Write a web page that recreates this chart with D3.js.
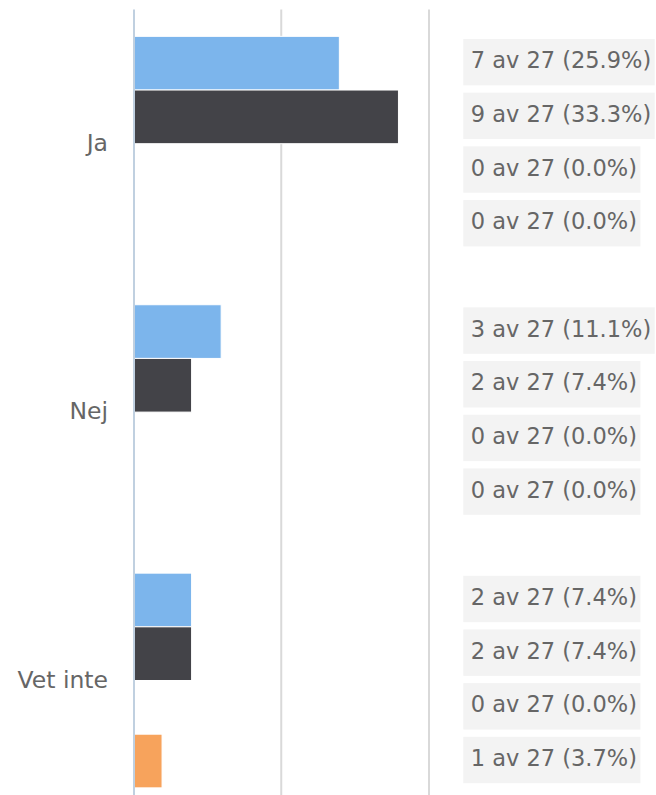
<!DOCTYPE html>
<html>
<head>
<meta charset="utf-8">
<script src="https://cdn.jsdelivr.net/npm/d3@7"></script>
<style>
  html, body { margin: 0; padding: 0; background: #fff; overflow: hidden; }
  svg { display: block; font-family: "DejaVu Sans", "Lucida Grande", sans-serif; }
</style>
</head>
<body>
<svg id="chart" width="656" height="795"></svg>
<script>
// ---- data ----
const categories = ["Ja", "Nej", "Vet inte"];
const seriesNames = ["S1", "S2", "S3", "S4"];
const series1 = [7, 3, 2];
const series2 = [9, 2, 2];
const series3 = [0, 0, 0];
const series4 = [0, 0, 1];
const total = 27;
const tickValues = [0, 5, 10];
const colors = ["#7cb5ec", "#434348", "#90ed7d", "#f7a35c"];

const allSeries = [series1, series2, series3, series4];

// ---- layout ----
const W = 656, H = 795;
const plotLeft = 134, plotRight = 429.5;
const plotTop = 9.5, catHeight = 268.4;
const plotBottom = plotTop + categories.length * catHeight;

const svg = d3.select("#chart");

const x = d3.scaleLinear().domain([0, 10]).range([plotLeft, plotRight]);
const y = d3.scaleBand().domain(categories).range([plotTop, plotBottom]).padding(0);
const ySub = d3.scaleBand().domain(seriesNames)
  .range([y.bandwidth() * 0.1, y.bandwidth() * 0.9]).padding(0);

// gridlines
const grid = svg.append("g");
grid.selectAll("line").data(tickValues.filter(d => d !== 0)).join("line")
  .attr("x1", d => x(d) - 0.5).attr("x2", d => x(d) - 0.5)
  .attr("y1", plotTop).attr("y2", plotBottom)
  .attr("stroke", "#d9d9d9").attr("stroke-width", 2);

// bars
const rows = [];
categories.forEach((c, ci) => {
  allSeries.forEach((s, si) => {
    rows.push({ cat: c, ser: seriesNames[si], value: s[ci], color: colors[si] });
  });
});

const bars = svg.append("g");
bars.selectAll("rect").data(rows.filter(d => d.value > 0)).join("rect")
  .attr("x", x(0))
  .attr("y", d => y(d.cat) + ySub(d.ser))
  .attr("width", d => Math.max(0, x(d.value) - x(0) - 1.5))
  .attr("height", ySub.bandwidth())
  .attr("fill", d => d.color)
  .attr("stroke", "#ffffff")
  .attr("stroke-width", 1);

// axis line (category axis)
svg.append("line")
  .attr("x1", x(0)).attr("x2", x(0))
  .attr("y1", plotTop).attr("y2", plotBottom)
  .attr("stroke", "#c0d0e0").attr("stroke-width", 2);

// category labels
svg.append("g").selectAll("text").data(categories).join("text")
  .attr("x", 108)
  .attr("y", d => y(d) + y.bandwidth() / 2 + 7)
  .attr("text-anchor", "end")
  .attr("font-size", "23.5px")
  .attr("fill", "#666666")
  .text(d => d);

// data labels with background boxes
const labelLeft = 463.3;
const lg = svg.append("g");
const labels = lg.selectAll("g").data(rows).join("g")
  .attr("transform", d => `translate(0,${y(d.cat) + ySub(d.ser) + ySub.bandwidth() / 2 - 1})`);
const rects = labels.append("rect")
  .attr("x", labelLeft).attr("y", -23.2).attr("height", 46.4)
  .attr("fill", "#f3f3f3");
const texts = labels.append("text")
  .attr("x", labelLeft + 7.4)
  .attr("y", 6)
  .attr("font-size", "22.5px")
  .attr("fill", "#666666")
  .text(d => `${d.value} av ${total} (${(d.value / total * 100).toFixed(1)}%)`);
texts.each(function(d, i) {
  const w = this.getComputedTextLength();
  d3.select(rects.nodes()[i]).attr("width", 7.4 + w + 3.5);
});
</script>
</body>
</html>
